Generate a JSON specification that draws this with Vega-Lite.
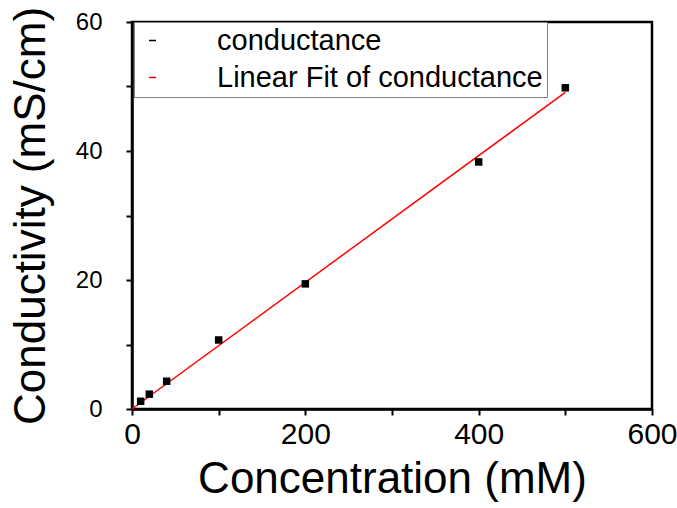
{
  "$schema": "https://vega.github.io/schema/vega-lite/v6.json",
  "width": 520,
  "height": 387,
  "autosize": {"type": "none"},
  "padding": {"left": 132, "top": 22, "right": 25, "bottom": 99},
  "background": "white",
  "config": {
    "view": {"stroke": "black", "strokeWidth": 2.5},
    "font": "Liberation Sans",
    "axis": {
      "domainColor": "black",
      "domainWidth": 2.5,
      "tickColor": "black",
      "tickWidth": 2,
      "tickSize": 6,
      "grid": false,
      "labelFont": "Liberation Sans",
      "labelColor": "black",
      "labelOverlap": false,
      "labelFlush": false,
      "titleFont": "Liberation Sans",
      "titleFontWeight": "normal",
      "titleFontSize": 44,
      "titleColor": "black"
    }
  },
  "datasets": {
    "measured": [
      {"concentration": 10, "conductivity": 1.2, "series": "conductance"},
      {"concentration": 20, "conductivity": 2.3, "series": "conductance"},
      {"concentration": 40, "conductivity": 4.3, "series": "conductance"},
      {"concentration": 100, "conductivity": 10.7, "series": "conductance"},
      {"concentration": 200, "conductivity": 19.4, "series": "conductance"},
      {"concentration": 400, "conductivity": 38.3, "series": "conductance"},
      {"concentration": 500, "conductivity": 49.8, "series": "conductance"}
    ],
    "fit": [
      {"concentration": 0, "conductivity": 0.0, "series": "Linear Fit of conductance"},
      {"concentration": 500, "conductivity": 49.1, "series": "Linear Fit of conductance"}
    ]
  },
  "layer": [
    {
      "data": {"name": "fit"},
      "mark": {"type": "line", "strokeWidth": 1.5},
      "encoding": {
        "x": {"field": "concentration", "type": "quantitative"},
        "y": {"field": "conductivity", "type": "quantitative"},
        "color": {"field": "series", "type": "nominal"}
      }
    },
    {
      "data": {"name": "measured"},
      "mark": {"type": "square", "size": 56, "filled": true, "opacity": 1},
      "encoding": {
        "x": {
          "field": "concentration",
          "type": "quantitative",
          "scale": {"domain": [0, 600], "nice": false},
          "axis": {
            "title": "Concentration (mM)",
            "values": [0, 100, 200, 300, 400, 500, 600],
            "labelExpr": "datum.value % 200 === 0 ? datum.label : ''",
            "labelFontSize": 30,
            "labelPadding": 4,
            "titlePadding": 8
          }
        },
        "y": {
          "field": "conductivity",
          "type": "quantitative",
          "scale": {"domain": [0, 60], "nice": false},
          "axis": {
            "title": "Conductivity (mS/cm)",
            "values": [0, 10, 20, 30, 40, 50, 60],
            "labelExpr": "datum.value % 20 === 0 ? datum.label : ''",
            "labelFontSize": 24,
            "labelPadding": 24,
            "titlePadding": 22
          }
        },
        "color": {
          "field": "series",
          "type": "nominal",
          "scale": {"domain": ["conductance", "Linear Fit of conductance"], "range": ["black", "red"]},
          "legend": {
            "orient": "none",
            "legendX": 2,
            "legendY": 0,
            "title": null,
            "padding": 4,
            "strokeColor": "#808080",
            "fillColor": "white",
            "labelFont": "Liberation Sans",
            "labelFontSize": 29,
            "labelColor": "black",
            "labelLimit": 0,
            "symbolSize": 49,
            "symbolStrokeWidth": 1.5,
            "labelOffset": 50,
            "rowPadding": 7
          }
        }
      }
    }
  ]
}
